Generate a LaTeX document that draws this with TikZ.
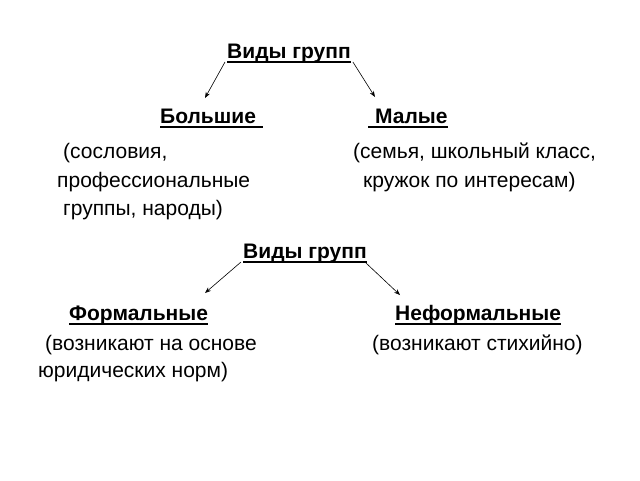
\documentclass[tikz,border=0pt]{standalone}
\usepackage{fontspec}
\setmainfont{Liberation Sans}
\usetikzlibrary{arrows.meta}
\tikzset{
  txt/.style={anchor=base west, inner sep=0pt, font=\fontsize{21}{25}\selectfont},
  hdr/.style={txt, font=\fontsize{21}{25}\selectfont\bfseries},
  uline/.style={line width=1.4pt},
  arr/.style={line width=0.6pt, -{Stealth[length=6pt,width=4.5pt]}}
}
\begin{document}
\begin{tikzpicture}[x=1pt,y=-1pt]
\useasboundingbox[fill=white] (0,0) rectangle (640,480);
% top tree
\node[hdr] (v1) at (227,58) {Виды групп};
\node[hdr] (b1) at (160,123) {Большие};
\node[hdr] (m1) at (375,123) {Малые};
\draw[uline] ([yshift=-4pt]v1.base west) -- ([yshift=-4pt]v1.base east);
\draw[uline] ([yshift=-4pt]b1.base west) -- ([yshift=-4pt,xshift=7pt]b1.base east);
\draw[uline] ([yshift=-4pt,xshift=-7pt]m1.base west) -- ([yshift=-4pt]m1.base east);
\coordinate (a1) at (205,98);
\coordinate (a2) at (375,97);
\draw[arr] ([yshift=-4pt,xshift=-2pt]v1.base west) -- (a1);
\draw[arr] ([yshift=-4pt,xshift=2pt]v1.base east) -- (a2);
\node[txt] (t1) at (63,158) {(сословия,};
\node[txt] (t2) at (57,187) {профессиональные};
\node[txt] (t3) at (63,215) {группы, народы)};
\node[txt] (t4) at (353,158) {(семья, школьный класс,};
\node[txt] (t5) at (363,187) {кружок по интересам)};
% bottom tree
\node[hdr] (v2) at (243,258) {Виды групп};
\draw[uline] ([yshift=-4pt]v2.base west) -- ([yshift=-4pt]v2.base east);
\node[hdr] (f1) at (69,320) {Формальные};
\node[hdr] (n1) at (395,320) {Неформальные};
\draw[uline] ([yshift=-4pt]f1.base west) -- ([yshift=-4pt]f1.base east);
\draw[uline] ([yshift=-4pt]n1.base west) -- ([yshift=-4pt]n1.base east);
\coordinate (a3) at (205,293);
\coordinate (a4) at (400,295);
\draw[arr] ([yshift=-4pt,xshift=-2pt]v2.base west) -- (a3);
\draw[arr] ([yshift=-4pt,xshift=-2pt]v2.base east) -- (a4);
\node[txt] (t6) at (45,350) {(возникают на основе};
\node[txt] (t7) at (38,377) {юридических норм)};
\node[txt] (t8) at (372,350) {(возникают стихийно)};
\end{tikzpicture}
\end{document}
